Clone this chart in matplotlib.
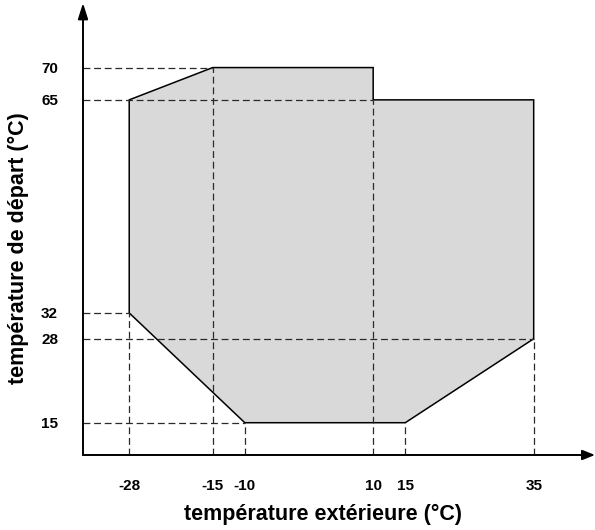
import numpy as np
import matplotlib
matplotlib.use("Agg")
from matplotlib import pyplot as plt
from matplotlib.patches import Polygon

plt.rcParams['font.family'] = ['Liberation Sans', 'DejaVu Sans']

###################################################################################################
# Data
###################################################################################################
# operating envelope (outside temp, flow temp), going round clockwise
envX = [-28, -28, -15, 10, 10, 35, 35, 15, -10]
envY = [32, 65, 70, 70, 65, 65, 28, 15, 15]

xTicks = [-28, -15, -10, 10, 15, 35]
yTicks = [15, 28, 32, 65, 70]

# helper lines: horizontal from y axis to x_end, vertical from x axis to y_end
hLines = [(70, -15), (65, 10), (32, -28), (28, 35), (15, -10)]
vLines = [(-28, 32), (-15, 70), (-10, 15), (10, 65), (15, 15), (35, 28)]

X_MIN, X_MAX = -35.2, 44.55
Y_MIN, Y_MAX = 10, 80

###################################################################################################
# Plot
###################################################################################################
fig = plt.figure(figsize=(5.95, 5.30), dpi=100)
ax = fig.add_axes([83/595, (530-455)/530, 512/595, 452/530])
ax.set_xlim(X_MIN, X_MAX)
ax.set_ylim(Y_MIN, Y_MAX)

ax.add_patch(Polygon(np.column_stack((envX, envY)), closed=True,
                     facecolor='#d9d9d9', edgecolor='black', lw=1.1, zorder=1))

dash = (0, (5.5, 3))
for y, xe in hLines:
    ax.plot([X_MIN, xe], [y, y], color='#2a2a2a', lw=0.9, linestyle=dash, zorder=2)
for x, ye in vLines:
    ax.plot([x, x], [Y_MIN, ye], color='#2a2a2a', lw=0.9, linestyle=dash, zorder=2)

for s in ax.spines.values():
    s.set_visible(False)

ax.annotate('', xy=(1.0, 0), xytext=(0, 0), xycoords='axes fraction',
            arrowprops=dict(arrowstyle='-|>,head_length=0.75,head_width=0.3', color='black',
                            lw=1.4, shrinkA=0, shrinkB=0),
            annotation_clip=False)
ax.annotate('', xy=(0, 1.0), xytext=(0, 0), xycoords='axes fraction',
            arrowprops=dict(arrowstyle='-|>,head_length=0.95,head_width=0.3', color='black',
                            lw=1.4, shrinkA=0, shrinkB=0),
            annotation_clip=False)

ax.set_xticks(xTicks)
ax.set_xticklabels([str(v) for v in xTicks], fontweight='bold', fontsize=11)
ax.set_yticks(yTicks)
ax.set_yticklabels([str(v) for v in yTicks], fontweight='bold', fontsize=11)
ax.tick_params(axis='x', length=0, pad=17)
ax.tick_params(axis='y', length=0, pad=18)

ax.set_xlabel("température extérieure (°C)", fontweight='bold', fontsize=15.5, va='center')
ax.set_ylabel("température de départ (°C)", fontweight='bold', fontsize=15.5, va='center')
ax.xaxis.set_label_coords((323.5-83)/512, -(514.5-455)/452)
ax.yaxis.set_label_coords(-(83-18)/512, (455-248)/452)

fig.savefig("out.png", dpi=100)
